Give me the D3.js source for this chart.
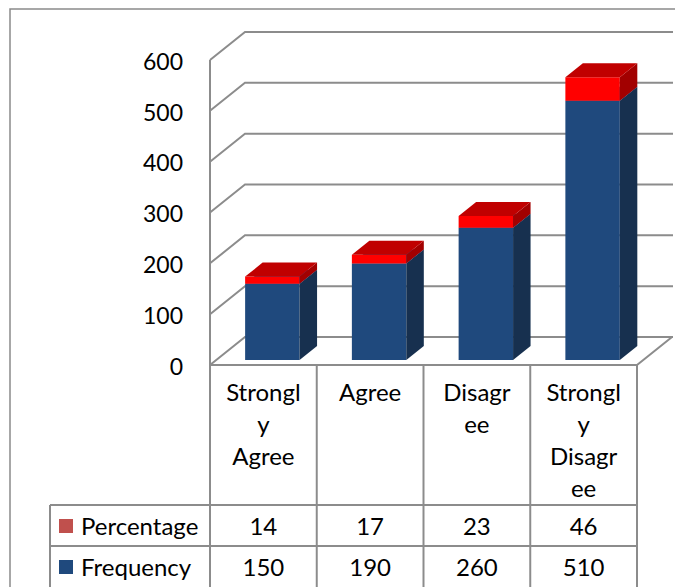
<!DOCTYPE html>
<html>
<head>
<meta charset="utf-8">
<script src="https://cdn.jsdelivr.net/npm/d3@7"></script>
<style>
  body { margin: 0; background: #fff; }
  svg { display: block; font-family: Lato, "Open Sans", sans-serif; }
</style>
</head>
<body>
<svg width="675" height="587"></svg>
<script>
// chart values
const categories = ["Strongly Agree", "Agree", "Disagree", "Strongly Disagree"];
const categoryLines = [["Strongl", "y", "Agree"], ["Agree"], ["Disagr", "ee"], ["Strongl", "y", "Disagr", "ee"]];
const frequency = [150, 190, 260, 510];
const percentage = [14, 17, 23, 46];
const yTicks = [0, 100, 200, 300, 400, 500, 600];
const seriesNames = ["Percentage", "Frequency"];

const svg = d3.select("svg");

// 3d depth of the floor / walls
const DX = 35, DY = 28;
const Z0 = 0.18, Z1 = 0.68;

const x = d3.scaleBand().domain(categories).range([210, 637]);
const y = d3.scaleLinear().domain([0, 600]).range([365, 60]);

function proj(px, v, z){
    return [px + z * DX, y(v) - z * DY];
}

// outer chart border
svg.append("path")
   .attr("d", "M10,587 L10,9 L675,9")
   .attr("fill", "none")
   .attr("stroke", "#8a8a8a")
   .attr("stroke-width", 1.5);

// walls + gridlines
const grid = svg.append("g").attr("stroke", "#8c8c8c").attr("stroke-width", 2).attr("fill", "none");
yTicks.forEach(function(t){
    let a = proj(210, t, 0), b = proj(210, t, 1);
    grid.append("path").attr("d", `M${a} L${b} L${673},${b[1]}`);
});
grid.append("path").attr("d", `M210,${y(600)} L210,${y(0)} L637,${y(0)} L${637 + DX},${y(0) - DY}`);

// y axis labels
const axis = svg.append("g")
    .attr("transform", "translate(210,0)")
    .call(d3.axisLeft(y).tickValues(yTicks).tickSize(0).tickPadding(27));
axis.select(".domain").remove();
axis.selectAll("text")
    .attr("font-family", "Lato, sans-serif")
    .attr("font-size", 23)
    .attr("fill", "#000")
    .attr("dy", "0.4em");

// stacked 3d bars
const stackData = categories.map(function(c, i){
    return {cat: c, frequency: frequency[i], percentage: percentage[i]};
});
const stacked = d3.stack().keys(["frequency", "percentage"])(stackData);
const colours = {
    frequency: {front: "#1F497D", side: "#17304F", top: "#2A5A94"},
    percentage: {front: "#FF0000", side: "#A20000", top: "#C00000"}
};

const bw = x.bandwidth();
const bars = svg.append("g");
stacked.forEach(function(layer){
    const col = colours[layer.key];
    layer.forEach(function(d, i){
        const x0 = x(categories[i]) + bw * 0.27;
        const x1 = x0 + bw * 0.51;
        const f = [proj(x0, d[0], Z0), proj(x1, d[0], Z0), proj(x1, d[1], Z0), proj(x0, d[1], Z0)];
        const s = [proj(x1, d[0], Z0), proj(x1, d[0], Z1), proj(x1, d[1], Z1), proj(x1, d[1], Z0)];
        const tp = [proj(x0, d[1], Z0), proj(x1, d[1], Z0), proj(x1, d[1], Z1), proj(x0, d[1], Z1)];
        bars.append("polygon").attr("points", f.join(" ")).attr("fill", col.front);
        bars.append("polygon").attr("points", s.join(" ")).attr("fill", col.side);
        bars.append("polygon").attr("points", tp.join(" ")).attr("fill", col.top);
    });
});

// data table
const rowTop = [505, 546];
const table = svg.append("g").attr("stroke", "#8c8c8c").attr("stroke-width", 2).attr("fill", "none");
x.domain().forEach(function(c){
    table.append("line").attr("x1", x(c)).attr("x2", x(c)).attr("y1", 365).attr("y2", 587);
});
table.append("line").attr("x1", 637).attr("x2", 637).attr("y1", 365).attr("y2", 587);
table.append("line").attr("x1", 50).attr("x2", 50).attr("y1", rowTop[0]).attr("y2", 587);
rowTop.forEach(function(r){
    table.append("line").attr("x1", 50).attr("x2", 637).attr("y1", r).attr("y2", r);
});

const text = svg.append("g").attr("font-size", 24).attr("fill", "#000");
categories.forEach(function(c, i){
    const cx = x(c) + bw / 2;
    categoryLines[i].forEach(function(line, j){
        text.append("text").attr("x", cx).attr("y", 401 + j * 32)
            .attr("text-anchor", "middle").text(line);
    });
    text.append("text").attr("x", cx).attr("y", 535).attr("text-anchor", "middle").text(percentage[i]);
    text.append("text").attr("x", cx).attr("y", 576).attr("text-anchor", "middle").text(frequency[i]);
});

// legend keys
const legendColours = ["#C0504D", "#1F497D"];
seriesNames.forEach(function(name, i){
    svg.append("rect").attr("x", 59).attr("y", 519 + i * 41).attr("width", 14).attr("height", 14)
       .attr("fill", legendColours[i]);
    text.append("text").attr("x", 81).attr("y", 535 + i * 41).text(name);
});
</script>
</body>
</html>
